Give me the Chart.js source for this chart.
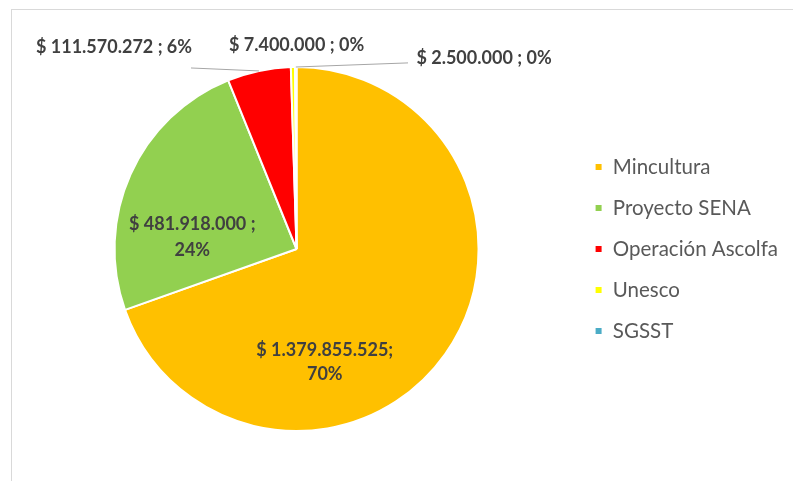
<!DOCTYPE html>
<html>
<head>
<meta charset="utf-8">
<script src="https://cdn.jsdelivr.net/npm/chart.js@4.4.1/dist/chart.umd.min.js"></script>
<style>
  html, body { margin: 0; padding: 0; background: #fff; }
  #wrap { position: relative; width: 793px; height: 481px; overflow: hidden; }
  #frame { position: absolute; left: 11px; top: 9px; right: -2px; bottom: -2px; border: 1px solid #d9d9d9; }
  canvas { position: absolute; left: 0; top: 0; }
</style>
</head>
<body>
<div id="wrap">
  <div id="frame"></div>
  <canvas id="pieChart" width="793" height="481"></canvas>
</div>
<script>
// Aportes por fuente
const labels = ['Mincultura', 'Proyecto SENA', 'Operación Ascolfa', 'Unesco', 'SGSST'];
const amounts = [1379855525, 481918000, 111570272, 7400000, 2500000];
const colors = ['#FFC000', '#92D050', '#FF0000', '#FFFF00', '#4BACC6'];

// where each data label sits, in units of the pie radius from its centre
const labelSpots = [
    { dx: 0.155, dy: 0.62, wrap: true, sep: ';', gap: 12 },
    { dx: -0.573, dy: -0.065, wrap: true, sep: ' ;', gap: 13 },
    { dx: -1.003, dy: -1.11, line: [77, 21] },
    { dx: 0.0, dy: -1.12 },
    { dx: 1.03, dy: -1.05, line: [-76, 5] }
];

const total = amounts.reduce((a, b) => a + b, 0);

function money(v) {
    return '$ ' + String(v).replace(/\B(?=(\d{3})+(?!\d))/g, '.');
}

// Data labels drawn from the arc geometry
const sliceLabels = {
    id: 'sliceLabels',
    afterDatasetsDraw(chart) {
        const ctx = chart.ctx;
        const meta = chart.getDatasetMeta(0);
        ctx.save();
        ctx.textAlign = 'center';
        ctx.textBaseline = 'middle';
        meta.data.forEach((arc, i) => {
            const p = arc.getProps(['x', 'y', 'startAngle', 'endAngle', 'outerRadius'], true);
            const spot = labelSpots[i];
            const lx = p.x + spot.dx * p.outerRadius;
            const ly = p.y + spot.dy * p.outerRadius;
            const pct = Math.round(amounts[i] / total * 100) + '%';
            if (spot.line) {
                const mid = (p.startAngle + p.endAngle) / 2;
                const ax = p.x + Math.cos(mid) * p.outerRadius;
                const ay = p.y + Math.sin(mid) * p.outerRadius;
                ctx.strokeStyle = '#a6a6a6';
                ctx.lineWidth = 1;
                ctx.beginPath();
                ctx.moveTo(ax, ay);
                ctx.lineTo(lx + spot.line[0], ly + spot.line[1]);
                ctx.stroke();
            }
            ctx.fillStyle = '#404040';
            ctx.font = 'bold 18px Lato';
            if (spot.wrap) {
                ctx.fillText(money(amounts[i]) + spot.sep, lx, ly - spot.gap);
                ctx.fillText(pct, lx, ly + spot.gap);
            } else {
                ctx.fillText(money(amounts[i]) + ' ; ' + pct, lx, ly);
            }
        });
        ctx.restore();
    }
};

var ctx = document.getElementById('pieChart').getContext('2d');
var pieChart = new Chart(ctx, {
    type: 'pie',
    data: {
        labels: labels,
        datasets: [{
            data: amounts,
            backgroundColor: colors,
            borderColor: '#ffffff',
            borderWidth: 2
        }]
    },
    options: {
        responsive: false,
        animation: false,
        layout: {
            padding: { left: 19, right: 5, top: 66, bottom: 49 }
        },
        plugins: {
            legend: {
                position: 'right',
                labels: {
                    boxWidth: 8,
                    boxHeight: 8,
                    padding: 20.5,
                    color: '#595959',
                    font: { family: 'Lato', size: 20.5 }
                }
            },
            tooltip: { enabled: false }
        }
    },
    plugins: [sliceLabels]
});
</script>
</body>
</html>
